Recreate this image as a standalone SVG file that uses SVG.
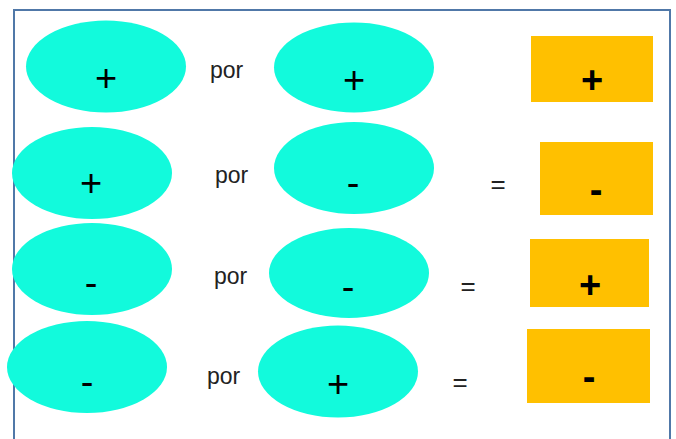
<svg xmlns="http://www.w3.org/2000/svg" width="676" height="439" viewBox="0 0 676 439">
<style>
.e{fill:#12FADC}
.r{fill:#FFC000}
.s{font-family:"Liberation Sans",Arial,sans-serif;font-size:38px;text-anchor:middle;fill:#000}
.b{font-weight:bold}
.t{font-family:"Liberation Sans",Arial,sans-serif;font-size:23px;fill:#222}
.q{font-family:"Liberation Sans",Arial,sans-serif;font-size:26px;fill:#222;text-anchor:middle}
</style>
<rect width="676" height="439" fill="#fff"/>
<path d="M14 439 V10 H670 V439" fill="none" stroke="#5078A8" stroke-width="2"/>
<g id="row1">
<g id="e1"><ellipse class="e" cx="106" cy="66.5" rx="80" ry="46"/><text class="s" x="106" y="91">+</text></g>
<g id="por1"><text class="t" x="210" y="78">por</text></g>
<g id="e2"><ellipse class="e" cx="354" cy="67.5" rx="80" ry="45"/><text class="s" x="354" y="93">+</text></g>
<g id="r1"><rect class="r" x="531" y="36" width="122" height="66"/><text class="s b" x="592" y="93">+</text></g>
</g>
<g id="row2">
<g id="e3"><ellipse class="e" cx="92" cy="173" rx="80" ry="46"/><text class="s" x="91" y="196">+</text></g>
<g id="por2"><text class="t" x="215" y="183">por</text></g>
<g id="e4"><ellipse class="e" cx="354" cy="168" rx="80" ry="46"/><text class="s" x="353" y="196">-</text></g>
<g id="eq2"><text class="q" x="498" y="193">=</text></g>
<g id="r2"><rect class="r" x="540" y="142" width="113" height="73"/><text class="s b" x="596" y="203">-</text></g>
</g>
<g id="row3">
<g id="e5"><ellipse class="e" cx="92" cy="269" rx="80" ry="46"/><text class="s" x="91" y="296">-</text></g>
<g id="por3"><text class="t" x="214" y="284">por</text></g>
<g id="e6"><ellipse class="e" cx="349" cy="273" rx="80" ry="45"/><text class="s" x="348" y="300">-</text></g>
<g id="eq3"><text class="q" x="468" y="295">=</text></g>
<g id="r3"><rect class="r" x="530" y="239" width="119" height="68"/><text class="s b" x="590" y="298">+</text></g>
</g>
<g id="row4">
<g id="e7"><ellipse class="e" cx="87" cy="367" rx="80" ry="46"/><text class="s" x="87" y="395">-</text></g>
<g id="por4"><text class="t" x="207" y="384">por</text></g>
<g id="e8"><ellipse class="e" cx="338" cy="371.5" rx="80" ry="46"/><text class="s" x="338" y="397">+</text></g>
<g id="eq4"><text class="q" x="460" y="391">=</text></g>
<g id="r4"><rect class="r" x="527" y="329" width="123" height="74"/><text class="s b" x="589" y="390">-</text></g>
</g>
</svg>
